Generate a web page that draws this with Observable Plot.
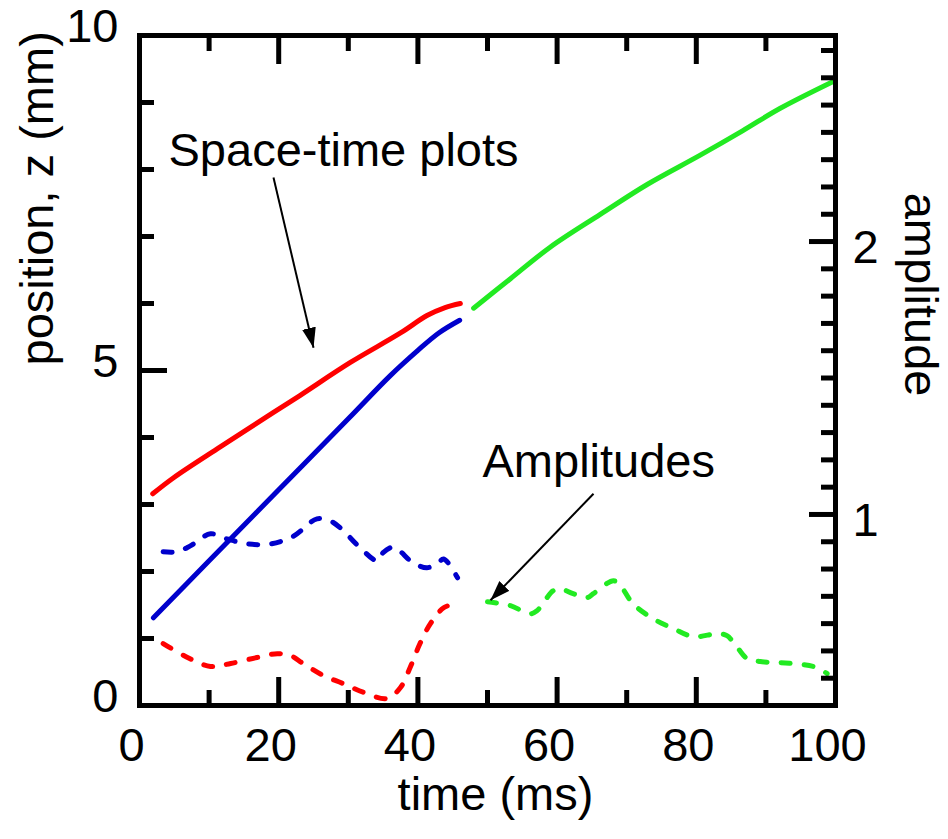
<!DOCTYPE html>
<html><head><meta charset="utf-8">
<script src="https://cdn.jsdelivr.net/npm/d3@7"></script>
<script src="https://cdn.jsdelivr.net/npm/@observablehq/plot@0.6"></script>
<style>body{margin:0;background:#fff}</style>
</head><body><div id="chart"></div>
<script>
// ---- data ----
// solid lines: position z (mm) vs time (ms)
const redPosT = [1.9, 4.9, 11.6, 19.2, 23.1, 30.3, 37.5, 41.3, 43.9, 46.1];
const redPosZ = [3.16, 3.40, 3.86, 4.37, 4.63, 5.12, 5.56, 5.82, 5.94, 6.00];
const bluePosT = [2.0, 10, 20, 30, 36, 40, 43, 46];
const bluePosZ = [1.31, 2.16, 3.22, 4.28, 4.92, 5.30, 5.56, 5.75];
const greenPosT = [48.0, 53.3, 59.0, 66.2, 73.0, 80.5, 86.7, 92.0, 99.6];
const greenPosZ = [5.93, 6.37, 6.84, 7.33, 7.78, 8.21, 8.58, 8.91, 9.31];
// dashed lines: amplitude (right axis) vs time (ms)
const blueAmpT = [3.4, 5.4, 7.3, 10.2, 12.6, 15.5, 18.8, 22.1, 25.5, 27.4, 28.9, 31.7, 34.2, 35.0, 36.5, 39.3, 41.3, 42.8, 43.7, 45.7];
const blueAmpA = [0.863, 0.863, 0.885, 0.929, 0.91, 0.892, 0.892, 0.92, 0.984, 0.976, 0.95, 0.878, 0.83, 0.86, 0.88, 0.823, 0.805, 0.82, 0.837, 0.768];
const redAmpT = [3.4, 6.9, 10.2, 13.1, 16.9, 19.8, 21.7, 23.5, 26.4, 29.3, 32.2, 35.6, 37.5, 38.9, 40.3, 41.8, 43.7, 45.4];
const redAmpA = [0.527, 0.476, 0.443, 0.454, 0.476, 0.49, 0.483, 0.454, 0.41, 0.38, 0.348, 0.326, 0.366, 0.44, 0.527, 0.6, 0.658, 0.673];
const greenAmpT = [50.0, 53.3, 56.1, 57.1, 59.4, 60.4, 62.3, 64.3, 65.2, 68.1, 69.1, 70.9, 73.8, 76.7, 79.6, 83.0, 84.4, 85.9, 87.3, 89.2, 92.0, 95.3, 97.3, 98.8];
const greenAmpA = [0.68, 0.666, 0.636, 0.647, 0.72, 0.728, 0.71, 0.695, 0.71, 0.757, 0.739, 0.673, 0.618, 0.582, 0.552, 0.563, 0.556, 0.512, 0.472, 0.461, 0.457, 0.45, 0.439, 0.417];

// axes
const xDomain = [0, 100];
const zDomain = [0, 10];
const ampDomain = [0.3, 2.755];
const xMajor = [0, 20, 40, 60, 80, 100];
const xMinor = [10, 30, 50, 70, 90];
const zMajor = [0, 5, 10];
const zMinor = [1, 2, 3, 4, 6, 7, 8, 9];
const ampMajor = [1, 2];
const ampMinor = [0.4, 0.5, 0.6, 0.7, 0.8, 0.9, 1.1, 1.2, 1.3, 1.4, 1.5, 1.6, 1.7, 1.8, 1.9, 2.1, 2.2, 2.3, 2.4, 2.5, 2.6, 2.7];

// annotations
const noteText = ["Space-time plots", "Amplitudes"];
const noteT = [4.17, 49.28];
const noteZ = [8.28, 3.63];
const arrowT1 = [19.25, 65.23];
const arrowZ1 = [7.88, 3.16];
const arrowT2 = [25.0, 50.43];
const arrowZ2 = [5.34, 1.57];

const labelX = "time (ms)";
const labelY = "position, z (mm)";
const labelY2 = "amplitude";

// ---- build ----
const zOf = a => (a - ampDomain[0]) / (ampDomain[1] - ampDomain[0]) * (zDomain[1] - zDomain[0]) + zDomain[0];
const ampOf = z => (z - zDomain[0]) / (zDomain[1] - zDomain[0]) * (ampDomain[1] - ampDomain[0]) + ampDomain[0];
const pts = (T, V) => T.map((t, i) => ({t, v: V[i]}));

const RED = "#ff0000", BLUE = "#0000cc", GREEN = "#22ea22";
const FS = 47;

function headMarker(color) {
  const ns = "http://www.w3.org/2000/svg";
  const m = document.createElementNS(ns, "marker");
  m.setAttribute("viewBox", "0 -7 20 14");
  m.setAttribute("markerWidth", 20);
  m.setAttribute("markerHeight", 14);
  m.setAttribute("refX", 20);
  m.setAttribute("refY", 0);
  m.setAttribute("orient", "auto");
  m.setAttribute("markerUnits", "userSpaceOnUse");
  const p = document.createElementNS(ns, "path");
  p.setAttribute("d", "M0,-7L20,0L0,7Z");
  p.setAttribute("fill", "black");
  p.setAttribute("stroke", "none");
  m.appendChild(p);
  return m;
}

function build(marker) {
  const solid = {x: "t", y: "v", strokeWidth: 5, curve: "catmull-rom", strokeLinecap: "round"};
  const dashed = {x: "t", y: d => zOf(d.v), strokeWidth: 5, curve: "catmull-rom", strokeDasharray: "9,14", strokeLinecap: "round"};
  return Plot.plot({
    width: 948, height: 839,
    marginLeft: 139, marginRight: 113, marginTop: 35, marginBottom: 134,
    x: {domain: xDomain},
    y: {domain: zDomain},
    style: {fontFamily: "'Liberation Sans', Arial, sans-serif", color: "black", background: "white", overflow: "visible"},
    marks: [
      // data lines
      Plot.line(pts(redAmpT, redAmpA), {...dashed, stroke: RED}),
      Plot.line(pts(blueAmpT, blueAmpA), {...dashed, stroke: BLUE}),
      Plot.line(pts(greenAmpT, greenAmpA), {...dashed, stroke: GREEN}),
      Plot.line(pts(redPosT, redPosZ), {...solid, stroke: RED}),
      Plot.line(pts(bluePosT, bluePosZ), {...solid, stroke: BLUE}),
      Plot.line(pts(greenPosT, greenPosZ), {...solid, stroke: GREEN}),
      // inward ticks
      Plot.axisY(zMinor, {anchor: "left", tickSize: -15, strokeWidth: 5, fill: "none", label: null}),
      Plot.axisY(zMajor, {anchor: "left", tickSize: -28, strokeWidth: 5, fill: "none", label: null}),
      Plot.axisX(xMinor, {anchor: "bottom", tickSize: -15, strokeWidth: 5, fill: "none", label: null}),
      Plot.axisX(xMajor, {anchor: "bottom", tickSize: -28, strokeWidth: 5, fill: "none", label: null}),
      Plot.axisX(xMinor, {anchor: "top", tickSize: -15, strokeWidth: 5, fill: "none", label: null}),
      Plot.axisX(xMajor, {anchor: "top", tickSize: -28, strokeWidth: 5, fill: "none", label: null}),
      Plot.axisY(ampMinor.map(zOf), {anchor: "right", tickSize: -15, strokeWidth: 5, fill: "none", label: null}),
      Plot.axisY(ampMajor.map(zOf), {anchor: "right", tickSize: -27, strokeWidth: 5, fill: "none", label: null}),
      // tick labels
      Plot.axisY(zMajor, {anchor: "left", tickSize: 0, tickPadding: 21, fontSize: FS, dy: -9, label: null, tickFormat: d3.format("d")}),
      Plot.axisX(xMajor, {anchor: "bottom", tickSize: 0, tickPadding: 22, fontSize: FS, dx: -8, label: null, tickFormat: d3.format("d")}),
      Plot.axisY(ampMajor.map(zOf), {anchor: "right", tickSize: 0, tickPadding: 17, fontSize: FS, dy: 6, label: null,
        tickFormat: z => d3.format("d")(Math.round(ampOf(z)))}),
      Plot.frame({strokeWidth: 5}),
      // axis titles
      Plot.text([labelY], {frameAnchor: "left", rotate: -90, dx: -102, dy: -5, fontSize: FS}),
      Plot.text([labelX], {frameAnchor: "bottom", dx: 8, dy: 104, fontSize: FS}),
      Plot.text([labelY2], {frameAnchor: "right", rotate: 90, dx: 85, dy: 26, fontSize: FS}),
      // annotations
      Plot.link(arrowT1.map((t, i) => i), {x1: i => arrowT1[i], y1: i => arrowZ1[i], x2: i => arrowT2[i], y2: i => arrowZ2[i],
        stroke: "black", strokeWidth: 2, markerEnd: marker}),
      Plot.text(noteText, {x: (d, i) => noteT[i], y: (d, i) => noteZ[i], text: d => d, textAnchor: "start", fontSize: FS})
    ]
  });
}

let chart;
try { chart = build(headMarker); } catch (e) { chart = build("arrow"); }
document.getElementById("chart").appendChild(chart);
</script>
</body></html>
